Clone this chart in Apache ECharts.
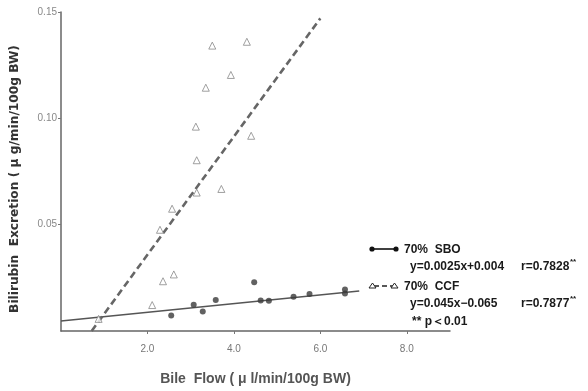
<!DOCTYPE html>
<html>
<head>
<meta charset="utf-8">
<script src="https://cdn.jsdelivr.net/npm/echarts@6/dist/echarts.min.js"></script>
<style>
  html, body { margin: 0; padding: 0; background: #fff; }
  #chart { width: 588px; height: 391px; }
</style>
</head>
<body>
<div id="chart"></div>
<script>
// 70% SBO: bile flow (x) vs bilirubin excretion (y)
var sboFlow = [2.55, 3.07, 3.28, 3.58, 4.47, 4.62, 4.81, 5.38, 5.75, 6.57, 6.57];
var sboExcr = [0.0073, 0.0124, 0.0092, 0.0146, 0.0229, 0.0143, 0.0142, 0.0161, 0.0174, 0.0195, 0.0176];

// 70% CCF
var ccfFlow = [3.50, 4.30, 3.93, 3.35, 3.12, 4.40, 3.14, 3.71, 3.14, 2.57, 2.29, 2.61, 2.36, 2.11, 0.87];
var ccfExcr = [0.1342, 0.1360, 0.1204, 0.1144, 0.0961, 0.0918, 0.0803, 0.0668, 0.0651, 0.0575, 0.0476, 0.0266, 0.0234, 0.0122, 0.0057];

// regression line end points
var sboLineX = [0, 6.9];
var sboLineY = [0.0047, 0.0188];
var ccfLineX = [0.71, 6.0];
var ccfLineY = [0.0, 0.1470];

// axis tick labels
var xTickValues = [2, 4, 6, 8];
var yTickValues = [0.05, 0.10, 0.15];

// legend text
var legendRows = [
  '70%  SBO',
  'y=0.0025x+0.004',
  'r=0.7828',
  '70%  CCF',
  'y=0.045x\u22120.065',
  'r=0.7877',
  '** p\uFF1C0.01'
];

function pairs(xs, ys) {
  return xs.map(function (x, i) { return [x, ys[i]]; });
}

var chart = echarts.init(document.getElementById('chart'), null, { renderer: 'canvas' });

var fontFam = '"Liberation Sans", Arial, sans-serif';
var legendStyle = { font: 'bold 12px ' + fontFam, fill: '#1a1a1a' };
var supStyle = { font: 'bold 8px ' + fontFam, fill: '#1a1a1a' };

chart.setOption({
  animation: false,
  backgroundColor: '#fff',
  grid: { left: 61, top: 12, right: 138, bottom: 56, containLabel: false },
  xAxis: {
    type: 'value',
    min: 0,
    max: 9,
    interval: 1,
    name: 'Bile  Flow ( \u03BC l/min/100g BW)',
    nameLocation: 'middle',
    nameGap: 41,
    nameTextStyle: { color: '#555', fontSize: 14, fontWeight: 'bold', fontFamily: fontFam },
    axisLine: { lineStyle: { color: '#666', width: 1.5 } },
    axisTick: { customValues: xTickValues, length: 3, lineStyle: { color: '#777' } },
    axisLabel: {
      customValues: xTickValues,
      color: '#777',
      fontSize: 10,
      fontFamily: fontFam,
      margin: 13,
      formatter: function (v) { return v.toFixed(1); }
    },
    splitLine: { show: false }
  },
  yAxis: {
    type: 'value',
    min: 0,
    max: 0.15,
    interval: 0.05,
    name: 'Bilirubin  Excretion ( \u03BC g/min/100g BW)',
    nameLocation: 'middle',
    nameGap: 40,
    nameTextStyle: {
      color: '#333', fontSize: 12.2, fontWeight: 'bold',
      fontFamily: '"DejaVu Sans", sans-serif', padding: [0, 15, 0, 0]
    },
    axisLine: { lineStyle: { color: '#666', width: 1.5 } },
    axisTick: { customValues: yTickValues, length: 3, lineStyle: { color: '#777' } },
    axisLabel: {
      customValues: yTickValues,
      color: '#888',
      fontSize: 10,
      fontFamily: fontFam,
      margin: 4,
      formatter: function (v) { return v.toFixed(2); }
    },
    splitLine: { show: false }
  },
  series: [
    {
      name: '70% SBO line',
      type: 'line',
      data: pairs(sboLineX, sboLineY),
      symbol: 'none',
      lineStyle: { color: '#555', width: 1.6 },
      z: 2
    },
    {
      name: '70% CCF line',
      type: 'line',
      data: pairs(ccfLineX, ccfLineY),
      symbol: 'none',
      lineStyle: { color: '#666', width: 2.6, type: [7, 4] },
      z: 2
    },
    {
      name: '70% SBO',
      type: 'scatter',
      data: pairs(sboFlow, sboExcr),
      symbol: 'circle',
      symbolSize: 6,
      itemStyle: { color: '#3a3a3a' },
      z: 3
    },
    {
      name: '70% CCF',
      type: 'scatter',
      data: pairs(ccfFlow, ccfExcr),
      symbol: 'triangle',
      symbolSize: 7,
      itemStyle: { color: '#fff', borderColor: '#888', borderWidth: 1 },
      z: 3
    }
  ],
  graphic: [
    // SBO key: dot - line - dot
    { type: 'line', shape: { x1: 372, y1: 249, x2: 396, y2: 249 }, style: { stroke: '#111', lineWidth: 1.6 } },
    { type: 'circle', shape: { cx: 372, cy: 249, r: 2.6 }, style: { fill: '#111' } },
    { type: 'circle', shape: { cx: 396, cy: 249, r: 2.6 }, style: { fill: '#111' } },
    { type: 'text', left: 404, top: 244, style: Object.assign({ text: legendRows[0] }, legendStyle) },
    { type: 'text', left: 410, top: 261, style: Object.assign({ text: legendRows[1] }, legendStyle) },
    { type: 'text', left: 521, top: 261, style: Object.assign({ text: legendRows[2] }, legendStyle) },
    { type: 'text', left: 570, top: 258, style: Object.assign({ text: '**' }, supStyle) },
    // CCF key: triangle - dashes - triangle
    { type: 'line', shape: { x1: 374, y1: 286, x2: 394, y2: 286 }, style: { stroke: '#222', lineWidth: 1.6, lineDash: [5, 3] } },
    { type: 'polygon', shape: { points: [[369, 288], [372.5, 283], [376, 288]] }, style: { fill: '#fff', stroke: '#222', lineWidth: 1 } },
    { type: 'polygon', shape: { points: [[391, 288], [394.5, 283], [398, 288]] }, style: { fill: '#fff', stroke: '#222', lineWidth: 1 } },
    { type: 'text', left: 404, top: 281, style: Object.assign({ text: legendRows[3] }, legendStyle) },
    { type: 'text', left: 410, top: 298, style: Object.assign({ text: legendRows[4] }, legendStyle) },
    { type: 'text', left: 521, top: 298, style: Object.assign({ text: legendRows[5] }, legendStyle) },
    { type: 'text', left: 570, top: 295, style: Object.assign({ text: '**' }, supStyle) },
    { type: 'text', left: 412, top: 316, style: Object.assign({ text: legendRows[6] }, legendStyle) }
  ]
});
</script>
</body>
</html>
